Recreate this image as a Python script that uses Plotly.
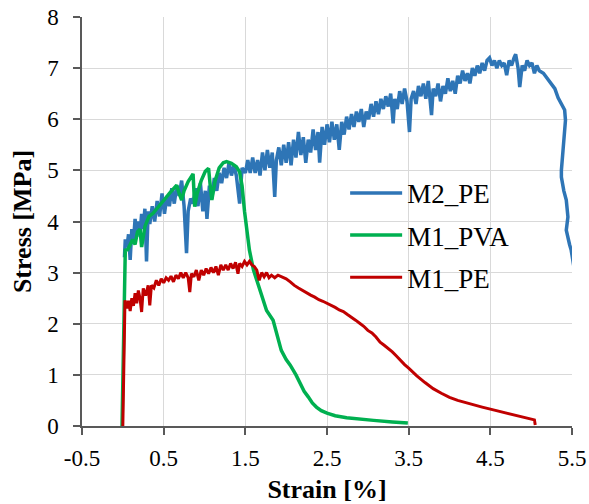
import plotly.graph_objects as go

# ---- data ----
m2_pe_x = [0.02, 0.03, 0.05, 0.07, 0.09, 0.11, 0.13, 0.15, 0.17, 0.19, 0.21, 0.23, 0.25, 0.27, 0.29, 0.31, 0.33, 0.36, 0.39, 0.42,
           0.45, 0.48, 0.51, 0.54, 0.57, 0.60, 0.63, 0.66, 0.69, 0.72, 0.75, 0.78, 0.80, 0.83, 0.86, 0.89, 0.92, 0.95, 0.98, 1.01,
           1.03, 1.06, 1.09, 1.12, 1.15, 1.18, 1.21, 1.24, 1.27, 1.30, 1.33, 1.36, 1.39, 1.43, 1.46, 1.50, 1.53, 1.56, 1.59, 1.62,
           1.65, 1.68, 1.71, 1.74, 1.77, 1.80, 1.83, 1.86, 1.88, 1.91, 1.94, 1.97, 2.00, 2.03, 2.06, 2.09, 2.12, 2.15, 2.18, 2.21,
           2.24, 2.27, 2.30, 2.33, 2.36, 2.39, 2.41, 2.44, 2.47, 2.50, 2.53, 2.56, 2.59, 2.62, 2.65, 2.68, 2.71, 2.74, 2.77, 2.80,
           2.83, 2.86, 2.89, 2.92, 2.95, 2.98, 3.01, 3.04, 3.07, 3.10, 3.13, 3.16, 3.19, 3.22, 3.25, 3.28, 3.31, 3.33, 3.36, 3.39,
           3.42, 3.45, 3.48, 3.51, 3.53, 3.56, 3.59, 3.62, 3.65, 3.68, 3.71, 3.74, 3.78, 3.80, 3.83, 3.86, 3.89, 3.92, 3.95, 3.98,
           4.01, 4.04, 4.07, 4.10, 4.13, 4.16, 4.19, 4.22, 4.25, 4.28, 4.31, 4.34, 4.37, 4.40, 4.43, 4.46, 4.49, 4.52, 4.55, 4.58,
           4.61, 4.64, 4.67, 4.70, 4.73, 4.76, 4.79, 4.81, 4.84, 4.86, 4.89, 4.92, 4.95, 4.98, 5.01, 5.04, 5.07, 5.10, 5.15, 5.20,
           5.25, 5.29, 5.33, 5.37, 5.41, 5.42, 5.41, 5.39, 5.37, 5.37, 5.40, 5.43, 5.45, 5.43, 5.47, 5.49, 5.53]
m2_pe_y = [3.30, 3.65, 3.50, 3.75, 3.25, 3.85, 3.60, 4.05, 3.70, 4.00, 3.75, 4.15, 3.85, 4.25, 3.22, 4.20, 3.95, 4.30, 4.00, 4.40,
           4.10, 4.55, 4.15, 4.50, 4.30, 4.65, 4.35, 4.70, 4.50, 4.80, 4.30, 3.38, 4.20, 4.45, 4.35, 4.65, 4.30, 4.75, 4.20, 4.60,
           4.05, 4.70, 4.45, 4.85, 4.60, 4.95, 4.75, 5.05, 4.85, 5.15, 4.90, 5.10, 4.90, 4.35, 5.05, 4.95, 5.20, 4.95, 5.25, 4.95,
           5.20, 4.90, 5.35, 5.00, 5.40, 5.05, 5.35, 4.48, 5.20, 5.45, 5.10, 5.50, 5.15, 5.55, 5.10, 5.60, 5.25, 5.75, 5.30, 5.65,
           5.15, 5.60, 5.35, 5.80, 5.40, 5.75, 5.15, 5.85, 5.50, 5.90, 5.55, 5.95, 5.60, 5.90, 5.40, 5.95, 5.70, 6.05, 5.80, 6.10,
           5.85, 6.15, 5.95, 6.20, 5.85, 6.15, 6.00, 6.30, 6.05, 6.35, 6.10, 6.40, 6.20, 6.45, 6.25, 6.50, 5.92, 6.40, 6.20, 6.55,
           6.30, 6.60, 6.35, 5.75, 6.40, 6.55, 6.30, 6.65, 6.45, 6.70, 6.40, 6.75, 6.08, 6.60, 6.45, 6.70, 6.35, 6.65, 6.50, 6.80,
           6.55, 6.75, 6.50, 6.85, 6.70, 6.95, 6.75, 6.90, 6.70, 7.00, 6.85, 7.05, 6.90, 7.10, 6.95, 7.15, 7.20, 7.05, 7.15, 7.00,
           7.15, 7.05, 7.10, 6.86, 7.15, 7.05, 7.20, 7.27, 7.00, 6.63, 7.05, 6.95, 7.15, 7.05, 7.10, 6.90, 7.05, 6.95, 6.90, 6.80,
           6.70, 6.60, 6.42, 6.30, 6.18, 5.98, 5.70, 5.39, 5.00, 4.87, 4.60, 4.42, 4.09, 3.83, 3.55, 3.44, 3.05]

m1_pva_x = [-0.01, 0.01, 0.03, 0.06, 0.09, 0.12, 0.15, 0.18, 0.21, 0.23, 0.27, 0.32, 0.37, 0.42, 0.47, 0.52, 0.57, 0.62, 0.66, 0.69,
            0.72, 0.75, 0.80, 0.86, 0.88, 0.91, 0.96, 1.01, 1.05, 1.07, 1.09, 1.13, 1.18, 1.23, 1.27, 1.33, 1.39, 1.43, 1.46, 1.49,
            1.52, 1.55, 1.60, 1.64, 1.70, 1.76, 1.84, 1.90, 1.94, 2.00, 2.05, 2.12, 2.17, 2.22, 2.27, 2.32, 2.37, 2.43, 2.50, 2.60,
            2.74, 2.90, 3.07, 3.30, 3.49]
m1_pva_y = [0.00, 2.00, 3.44, 3.45, 3.55, 3.65, 3.55, 3.80, 3.85, 3.50, 3.90, 4.10, 4.16, 4.25, 4.35, 4.45, 4.55, 4.65, 4.71, 4.55,
            4.42, 4.60, 4.78, 4.93, 4.29, 4.55, 4.80, 4.98, 5.04, 4.70, 4.42, 4.80, 5.05, 5.15, 5.17, 5.14, 5.07, 4.97, 4.70, 4.20,
            3.80, 3.44, 3.05, 2.85, 2.55, 2.26, 2.07, 1.75, 1.48, 1.30, 1.19, 1.00, 0.83, 0.68, 0.57, 0.45, 0.37, 0.30, 0.25, 0.20,
            0.16, 0.13, 0.11, 0.08, 0.06]

m1_pe_x = [0.00, 0.015, 0.026, 0.05, 0.07, 0.09, 0.11, 0.13, 0.15, 0.17, 0.19, 0.21, 0.23, 0.25, 0.28, 0.31, 0.33, 0.35, 0.38, 0.41,
           0.44, 0.47, 0.50, 0.53, 0.56, 0.59, 0.62, 0.65, 0.68, 0.71, 0.74, 0.77, 0.80, 0.82, 0.84, 0.87, 0.90, 0.93, 0.96, 0.99,
           1.02, 1.05, 1.08, 1.11, 1.14, 1.17, 1.20, 1.23, 1.26, 1.29, 1.32, 1.35, 1.38, 1.41, 1.43, 1.46, 1.49, 1.52, 1.55, 1.58,
           1.61, 1.64, 1.67, 1.70, 1.73, 1.76, 1.79, 1.82, 1.86, 1.90, 1.95, 2.00, 2.05, 2.10, 2.15, 2.20, 2.25, 2.30, 2.35, 2.40,
           2.45, 2.50, 2.55, 2.60, 2.65, 2.70, 2.75, 2.80, 2.85, 2.90, 2.95, 3.00, 3.05, 3.10, 3.15, 3.20, 3.25, 3.30, 3.35, 3.40,
           3.45, 3.50, 3.60, 3.70, 3.80, 3.90, 4.00, 4.10, 4.25, 4.40, 4.55, 4.70, 4.82, 4.95, 5.04, 5.05]
m1_pe_y = [0.00, 1.20, 2.46, 2.30, 2.45, 2.25, 2.50, 2.35, 2.60, 2.40, 2.65, 2.50, 2.23, 2.69, 2.55, 2.75, 2.36, 2.75, 2.70, 2.85,
           2.75, 2.88, 2.80, 2.90, 2.85, 2.93, 2.82, 2.95, 2.88, 3.00, 2.90, 3.00, 2.90, 2.62, 2.98, 2.92, 3.05, 2.85, 3.05, 2.95,
           3.08, 2.98, 3.10, 3.00, 3.12, 2.95, 3.15, 3.05, 3.15, 3.05, 3.18, 3.08, 3.20, 2.98, 3.18, 3.12, 3.22, 3.15, 3.22, 3.15,
           3.12, 3.05, 2.85, 3.00, 2.92, 3.00, 2.90, 2.95, 2.90, 2.95, 2.92, 2.88, 2.82, 2.75, 2.70, 2.65, 2.60, 2.56, 2.52, 2.47,
           2.44, 2.40, 2.37, 2.32, 2.27, 2.24, 2.18, 2.13, 2.07, 2.01, 1.95, 1.87, 1.82, 1.74, 1.64, 1.58, 1.52, 1.45, 1.37, 1.28,
           1.20, 1.13, 0.98, 0.85, 0.73, 0.64, 0.56, 0.50, 0.43, 0.37, 0.31, 0.25, 0.20, 0.15, 0.12, 0.02]

x_ticks = [-0.5, 0.5, 1.5, 2.5, 3.5, 4.5, 5.5]
y_ticks = [0, 1, 2, 3, 4, 5, 6, 7, 8]

FONT = "Liberation Serif"

fig = go.Figure()
fig.add_trace(go.Scatter(x=m2_pe_x, y=m2_pe_y, mode="lines", name="M2_PE", legendgroup="a",
                         line=dict(color="#2E75B6", width=3.5)))
fig.add_trace(go.Scatter(x=m1_pva_x, y=m1_pva_y, mode="lines", name="M1_PVA", legendgroup="b",
                         line=dict(color="#00B050", width=3.5)))
fig.add_trace(go.Scatter(x=m1_pe_x, y=m1_pe_y, mode="lines", name="M1_PE", legendgroup="c",
                         line=dict(color="#C00000", width=3)))

fig.update_layout(
    width=589, height=504,
    margin=dict(l=82, r=17, t=17, b=78),
    paper_bgcolor="white", plot_bgcolor="white",
    font=dict(family=FONT, size=23, color="black"),
    showlegend=True,
    legend=dict(x=0.537, y=0.466, xanchor="left", yanchor="middle", bgcolor="rgba(0,0,0,0)",
                itemwidth=52,
                font=dict(family=FONT, size=27, color="black"), tracegroupgap=4),
    xaxis=dict(range=[-0.5, 5.5], tickvals=x_ticks, ticktext=[str(v) for v in x_ticks],
               showgrid=True, gridcolor="#D9D9D9", gridwidth=1,
               showline=True, linecolor="#595959", linewidth=1.5,
               ticks="outside", ticklen=7, tickcolor="#595959", tickwidth=1.5,
               zeroline=False, automargin=False, ticklabelstandoff=4,
               title=dict(text="<b>Strain [%]</b>", font=dict(family=FONT, size=26), standoff=10)),
    yaxis=dict(range=[0, 8], tickvals=y_ticks, ticktext=[str(v) for v in y_ticks],
               showgrid=True, gridcolor="#D9D9D9", gridwidth=1,
               showline=True, linecolor="#595959", linewidth=1.5,
               ticks="outside", ticklen=7, tickcolor="#595959", tickwidth=1.5,
               zeroline=False, automargin=False, ticklabelstandoff=10,
               title=dict(text="<b>Stress [MPa]</b>", font=dict(family=FONT, size=26), standoff=8)),
)

fig.write_html("out.html")
